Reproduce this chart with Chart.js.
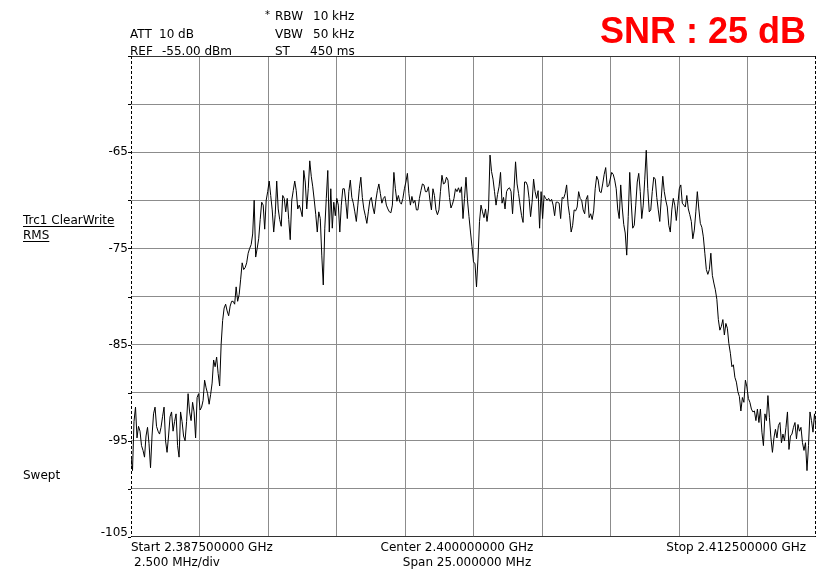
<!DOCTYPE html>
<html>
<head>
<meta charset="utf-8">
<script src="https://cdn.jsdelivr.net/npm/chart.js@4/dist/chart.umd.min.js"></script>
<style>
  html, body { margin: 0; padding: 0; background: #fff; }
  #wrap { width: 818px; height: 569px; }
</style>
</head>
<body>
<div id="wrap"><canvas id="spec" width="818" height="569"></canvas></div>
<script>
// sweep settings (MHz)
const spanMHz = 25;
const divMHz = 2.5;
// y axis (dBm)
const refLevel = -55;
const bottomLevel = -105;
const yTickLabels = [-65, -75, -85, -95, -105];

// trace levels, one per sweep point (left to right)
const levels = [
  -96.7, -98.1, -93.0, -91.5, -94.7, -93.5, -94.0, -95.5, -96.0, -96.7,
  -94.5, -93.6, -95.3, -97.8, -94.5, -92.2, -91.5, -93.5, -94.0, -94.3,
  -93.6, -92.5, -91.5, -95.0, -96.2, -94.5, -92.5, -92.0, -94.0, -93.0,
  -92.2, -95.5, -96.7, -92.0, -93.0, -94.5, -95.0, -93.0, -90.1, -92.0,
  -92.9, -91.0, -92.0, -94.7, -90.5, -90.1, -91.8, -91.5, -90.8, -88.7,
  -89.5, -90.1, -91.2, -90.2, -89.0, -86.6, -87.3, -86.3, -88.0, -89.3,
  -85.0, -82.5, -81.2, -80.8, -81.5, -82.0, -81.0, -80.5, -80.5, -80.8,
  -79.0, -80.5, -79.8, -78.2, -76.5, -77.2, -77.0, -76.5, -75.5, -75.0,
  -74.6, -73.5, -70.0, -75.9, -75.0, -74.0, -72.0, -70.2, -70.5, -73.0,
  -70.0, -69.1, -68.0, -69.5, -71.0, -73.3, -71.5, -68.0, -70.9, -72.0,
  -72.7, -69.5, -69.8, -71.2, -69.8, -72.0, -74.1, -70.0, -69.0, -68.0,
  -69.0, -70.9, -70.5, -71.0,

  -71.7, -66.9, -68.1, -70.9, -68.8, -65.9, -67.5, -68.6, -70.0, -71.5,
  -73.3, -71.2, -71.9, -75.7, -78.8, -72.9, -69.8, -66.9, -73.3, -68.8,
  -72.9, -70.2, -71.6, -69.8, -70.5, -73.3, -70.5, -68.8, -68.8, -70.2,
  -71.9, -69.1, -67.9, -69.7, -70.3, -71.2, -72.2, -70.5, -68.8, -67.6,
  -69.7, -70.9, -71.6, -72.4, -71.2, -70.0, -69.7, -70.7, -71.4, -70.0,
  -69.0, -68.3, -69.3, -70.3, -69.8, -69.6, -70.5, -70.9, -71.2, -71.3,
  -70.5, -67.1, -68.8, -70.1, -69.5, -70.2, -70.4, -69.8, -68.8, -68.1,
  -67.2, -69.3, -70.5, -69.6, -70.3, -70.0, -71.0, -71.0, -69.8, -69.0,
  -68.3, -68.4, -69.1, -69.1, -68.6, -70.0, -71.0, -68.8, -69.5, -71.0,
  -71.5, -71.0, -69.1, -67.4, -68.3, -68.2, -67.6, -67.9, -69.7, -70.8,
  -70.4, -69.8, -68.8, -69.1, -68.7, -69.2, -68.6, -71.9, -69.8, -67.6,
  -70.0, -71.7, -73.3, -74.8, -76.4, -76.6, -79.0, -76.0, -72.2, -70.5,
  -71.2, -71.8, -70.9, -72.2, -70.9, -65.3, -67.0, -67.8, -69.1, -70.5,
  -69.4, -68.6, -67.1, -70.3, -69.7, -70.9, -69.1, -68.8, -68.7, -69.1,
  -71.4, -68.8, -66.0, -68.3, -69.3, -70.5, -71.6, -72.3, -68.1, -68.1,
  -68.5, -69.8, -71.7, -70.2, -67.8, -69.1, -69.8, -69.0, -72.9, -69.1,
  -71.9, -69.5, -69.8, -70.0, -69.8, -70.1, -69.9, -70.5, -71.6, -70.2,
  -70.2, -70.3,

  -71.9, -69.7, -69.8, -69.3, -68.4, -70.5, -71.6, -73.3, -72.6, -71.0,
  -71.1, -70.7, -69.1, -69.8, -70.0, -71.0, -71.4, -69.9, -69.5, -71.8,
  -71.4, -72.0, -71.1, -68.8, -67.5, -67.9, -69.1, -69.2, -68.3, -67.3,
  -66.6, -68.6, -68.5, -67.8, -67.1, -67.3, -67.9, -68.8, -70.9, -71.9,
  -68.4, -70.7, -72.5, -73.4, -75.7, -71.7, -67.1, -70.2, -72.9, -72.6,
  -70.5, -68.1, -67.2, -69.1, -71.9, -70.5, -67.8, -64.8, -68.8, -71.2,
  -71.0, -69.1, -67.6, -67.8, -69.7, -71.0, -72.2, -69.8, -67.5, -69.1,
  -70.0, -70.7, -72.6, -73.3, -71.0, -69.8, -70.5, -72.1, -70.5, -68.8,
  -68.4, -70.3, -70.5, -70.7, -69.5, -70.9, -71.5, -72.2, -74.0, -73.1,
  -71.2, -69.1, -70.9, -72.4, -72.8, -73.8, -75.5, -77.2, -77.7, -77.2,
  -75.5, -77.8, -78.6, -79.3,

  -80.3, -82.4, -83.5, -83.1, -82.4, -84.0, -82.8, -83.3, -84.9, -85.9,
  -87.3, -87.1, -88.4, -88.9, -89.9, -90.4, -91.9, -90.5, -91.0, -88.7,
  -89.4, -90.6, -91.0, -91.7, -92.0, -91.9, -92.9, -91.7, -93.1, -91.7,
  -94.1, -95.5, -92.2, -92.9, -90.3, -92.6, -94.7, -96.2, -94.7, -93.8,
  -94.7, -93.4, -93.1, -95.2, -94.3, -95.0, -93.6, -92.0, -95.9, -94.5,
  -94.3, -93.6, -93.1, -94.8, -93.3, -94.0, -93.6, -95.2, -96.0, -95.2,
  -98.1, -95.5, -92.0, -92.9, -94.1, -92.2, -93.6
];

const headerLeft = [["ATT", "10 dB"], ["REF", "-55.00 dBm"]];
const headerMid = [["RBW", "10 kHz"], ["VBW", "50 kHz"], ["ST", "450 ms"]];
const footer = {
  start: "Start 2.387500000 GHz",
  center: "Center 2.400000000 GHz",
  stop: "Stop 2.412500000 GHz",
  perDiv: "2.500 MHz/div",
  span: "Span 25.000000 MHz"
};
const snrText = "SNR : 25 dB";

// sweep points are evenly spaced over the span
const points = levels.map((v, i) => ({ x: i * spanMHz / (levels.length - 1), y: v }));

const gridGray = "#8c8c8c";
const font = '12px "DejaVu Sans"';

function gridColor(ctx) {
  const v = ctx.tick ? ctx.tick.value : null;
  if (v === 0 || v === spanMHz || v === refLevel || v === bottomLevel) return "rgba(0,0,0,0)";
  return gridGray;
}

// frame, labels and header text of the analyzer screen
const screenText = {
  id: "screenText",
  afterDraw(chart) {
    const c = chart.ctx;
    const a = chart.chartArea;
    const ys = chart.scales.y;
    c.save();

    // frame
    c.lineWidth = 1;
    c.strokeStyle = "#333";
    c.beginPath();
    c.moveTo(a.left, a.top + 0.5); c.lineTo(a.right, a.top + 0.5);
    c.moveTo(a.left, a.bottom - 0.5); c.lineTo(a.right, a.bottom - 0.5);
    c.stroke();
    c.strokeStyle = "#000";
    c.setLineDash([3, 2]);
    c.beginPath();
    c.moveTo(a.left + 0.5, a.top); c.lineTo(a.left + 0.5, a.bottom);
    c.moveTo(a.right - 0.5, a.top); c.lineTo(a.right - 0.5, a.bottom);
    c.stroke();
    c.setLineDash([]);

    // small ticks on the left edge
    c.beginPath();
    for (let v = bottomLevel; v <= refLevel; v += 5) {
      const y = Math.round(ys.getPixelForValue(v)) + 0.5;
      c.moveTo(a.left - 3, y); c.lineTo(a.left, y);
    }
    c.stroke();

    c.fillStyle = "#000";
    c.font = font;

    // y labels
    c.textAlign = "right";
    yTickLabels.forEach(v => {
      const y = ys.getPixelForValue(v);
      if (y > a.bottom - 6) {
        c.textBaseline = "alphabetic";
        c.fillText(String(v), a.left - 3, a.bottom - 1);
      } else {
        c.textBaseline = "middle";
        c.fillText(String(v), a.left - 3, y);
      }
    });

    // header
    c.textAlign = "left";
    c.textBaseline = "alphabetic";
    c.fillText(headerLeft[0][0], 130, 38);
    c.fillText(headerLeft[0][1], 159, 38);
    c.fillText(headerLeft[1][0], 130, 55);
    c.fillText(headerLeft[1][1], 162, 55);
    [20, 38, 55].forEach((y, i) => {
      c.fillText(headerMid[i][0], 275, y);
      c.fillText(headerMid[i][1], i === 2 ? 310 : 313, y);
    });
    c.font = '10px "DejaVu Sans"';
    c.fillText("*", 265, 18);
    c.font = font;

    // side labels
    const side = [["Trc1 ClearWrite", 224, true], ["RMS", 239, true], ["Swept", 479, false]];
    side.forEach(([t, y, ul]) => {
      c.fillText(t, 23, y);
      if (ul) {
        const w = c.measureText(t).width;
        c.fillRect(23, y + 2, w, 1);
      }
    });

    // footer
    c.fillText(footer.start, 131, 551);
    c.fillText(footer.perDiv, 134, 566);
    c.textAlign = "center";
    c.fillText(footer.center, 457, 551);
    c.fillText(footer.span, 467, 566);
    c.textAlign = "right";
    c.fillText(footer.stop, 806, 551);

    // SNR
    c.fillStyle = "#ff0000";
    c.font = 'bold 36px "Liberation Sans"';
    c.fillText(snrText, 806, 43);

    c.restore();
  }
};

const ctx = document.getElementById("spec").getContext("2d");
new Chart(ctx, {
  type: "line",
  data: {
    datasets: [{
      data: points,
      borderColor: "#000",
      borderWidth: 1,
      pointRadius: 0,
      tension: 0
    }]
  },
  options: {
    responsive: false,
    animation: false,
    layout: { padding: { left: 0, top: 56, right: 2, bottom: 0 } },
    plugins: {
      legend: { display: false },
      tooltip: { enabled: false }
    },
    scales: {
      x: {
        type: "linear",
        min: 0,
        max: spanMHz,
        ticks: { display: false, stepSize: divMHz },
        grid: { color: gridColor, drawTicks: false },
        border: { display: false },
        afterFit: s => { s.height = 32; }
      },
      y: {
        min: bottomLevel,
        max: refLevel,
        ticks: { display: false, stepSize: 5 },
        grid: { color: gridColor, drawTicks: false },
        border: { display: false },
        afterFit: s => { s.width = 131; }
      }
    }
  },
  plugins: [screenText]
});
</script>
</body>
</html>
